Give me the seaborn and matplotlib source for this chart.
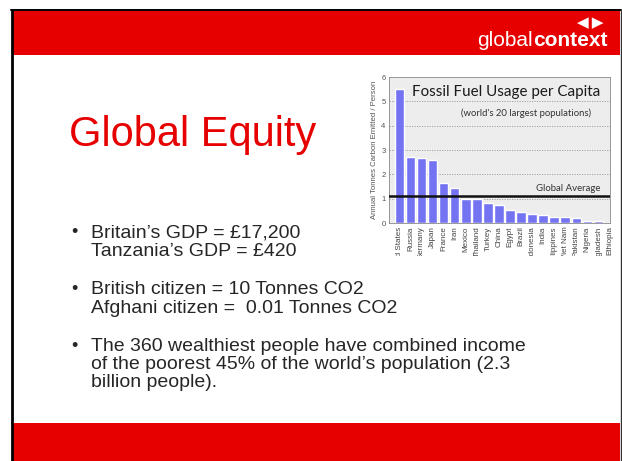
import matplotlib
matplotlib.use("Agg")
import matplotlib.pyplot as plt
import seaborn as sns
from matplotlib.patches import Rectangle
from matplotlib.transforms import Bbox, TransformedBbox

# Chart data
countries = ["United States", "Russia", "Germany", "Japan", "France", "Iran",
             "Mexico", "Thailand", "Turkey", "China", "Egypt", "Brazil",
             "Indonesia", "India", "Philippines", "Viet Nam", "Pakistan",
             "Nigeria", "Bangladesh", "Ethiopia"]
tonnes = [5.52, 2.70, 2.66, 2.59, 1.65, 1.44, 0.99, 0.98, 0.84, 0.74, 0.53,
          0.46, 0.36, 0.32, 0.25, 0.23, 0.21, 0.10, 0.07, 0.02]
global_avg = 1.10
y_ticks = [0, 1, 2, 3, 4, 5, 6]

# Slide text
slide_title = "Global Equity"
bullets = [
    ["Britain\u2019s GDP = \u00a317,200", "Tanzania\u2019s GDP = \u00a3420"],
    ["British citizen = 10 Tonnes CO2", "Afghani citizen =  0.01 Tonnes CO2"],
    ["The 360 wealthiest people have combined income",
     "of the poorest 45% of the world\u2019s population (2.3",
     "billion people)."],
]
bullet_baselines = [[237, 256], [294, 313], [351, 369, 387]]

W, H = 622, 461
RED = "#e60000"
BAR = "#7474f2"


def fx(x):
    return x / W


def fy(y):
    return 1 - y / H


sns.set_style("white")
plt.rcParams["font.family"] = ["Liberation Sans", "DejaVu Sans"]

fig = plt.figure(figsize=(W / 100, H / 100), dpi=100)
fig.patch.set_facecolor("white")

# slide frame and red bands
fig.patches.append(Rectangle((fx(12), fy(55)), fx(608), 44 / H, transform=fig.transFigure,
                             facecolor=RED, edgecolor="none", zorder=0))
fig.patches.append(Rectangle((fx(12), 0), fx(608), 38 / H, transform=fig.transFigure,
                             facecolor=RED, edgecolor="none", zorder=0))
fig.add_artist(plt.Line2D([fx(12), fx(12)], [0, fy(10)], color="black", lw=2.0))
fig.add_artist(plt.Line2D([fx(11), fx(621)], [fy(10.5), fy(10.5)], color="black", lw=1.4))
fig.add_artist(plt.Line2D([fx(620.5), fx(620.5)], [0, fy(10)], color="#333333", lw=1.0))

# logo
fig.text(fx(533), fy(46), "global", color="white", fontsize=15, ha="right", va="baseline")
fig.text(fx(533), fy(46), "context", color="white", fontsize=15, fontweight="bold",
         ha="left", va="baseline")
fig.text(fx(590), fy(22.5), "\u25c0\u2009\u25b6", color="white", fontsize=11, ha="center",
         va="center", family=["DejaVu Sans"])

# slide title and bullets
fig.text(fx(69), fy(146), slide_title, color=RED, fontsize=30, ha="left", va="baseline")
for lines, bases in zip(bullets, bullet_baselines):
    fig.text(fx(71), fy(bases[0]), "\u2022", fontsize=13, ha="left", va="baseline")
    for line, b in zip(lines, bases):
        fig.text(fx(91), fy(b), line, fontsize=14, ha="left", va="baseline")

# embedded chart
ax = fig.add_axes([fx(389), fy(223), (610 - 389) / W, (223 - 77) / H])
sns.barplot(x=countries, y=tonnes, color=BAR, saturation=1, width=0.86, ax=ax, zorder=3)
ax.set_facecolor("#ededed")
ax.set_xlim(-0.95, 19.05)
ax.set_ylim(0, 6)
ax.set_yticks(y_ticks)
ax.set_yticklabels([str(t) for t in y_ticks], fontsize=5.5, color="#555555")
for t in y_ticks[1:-1]:
    ax.axhline(t, color="#9a9a9a", lw=0.6, ls=(0, (1.5, 1.5)), zorder=1)
ax.axhline(global_avg, color="#111111", lw=1.8, zorder=4)
ax.tick_params(axis="both", length=1.5, width=0.5, pad=1, colors="#555555")
ax.tick_params(axis="x", labelrotation=90, labelsize=5.8)
for s in ax.spines.values():
    s.set_color("#888888")
    s.set_linewidth(0.6)
ax.set_ylabel("Annual Tonnes Carbon Emitted / Person", fontsize=5.6, color="#555555", labelpad=2)
ax.set_xlabel("")

clip = TransformedBbox(Bbox([[fx(360), fy(256)], [fx(615), fy(222)]]), fig.transFigure)
for lbl in ax.get_xticklabels():
    lbl.set_color("#444444")
    lbl.set_clip_box(clip)
    lbl.set_clip_on(True)

ax.text(0.955, 0.9, "Fossil Fuel Usage per Capita", transform=ax.transAxes, ha="right",
        va="center", fontsize=10.9, color="#1a1a1a", family=["Lato", "DejaVu Sans"])
ax.text(0.62, 0.755, "(world's 20 largest populations)", transform=ax.transAxes, ha="center",
        va="center", fontsize=6.8, color="#333333", family=["Lato", "DejaVu Sans"])
ax.text(0.955, global_avg + 0.12, "Global Average", transform=ax.get_yaxis_transform(),
        ha="right", va="bottom", fontsize=6.9, color="#333333", family=["Lato", "DejaVu Sans"])

fig.savefig("out.png", dpi=100)
